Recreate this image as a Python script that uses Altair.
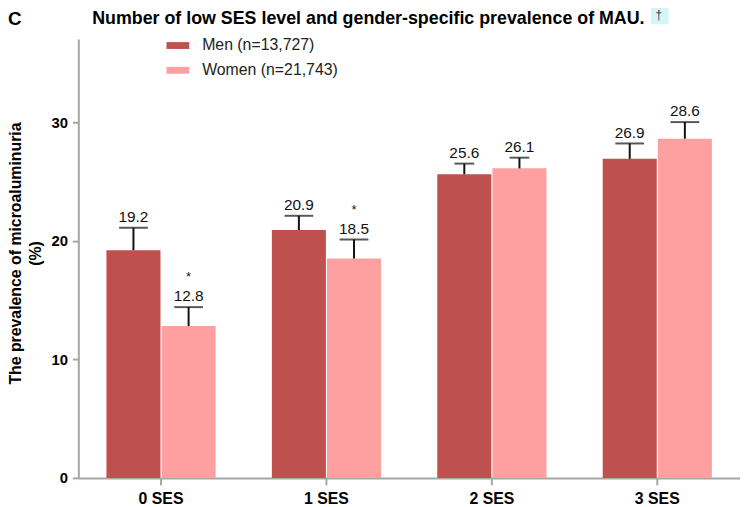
import altair as alt
import pandas as pd

categories = ["0 SES", "1 SES", "2 SES", "3 SES"]
groups = ["Men (n=13,727)", "Women (n=21,743)"]
men_values = [19.2, 20.9, 25.6, 26.9]
women_values = [12.8, 18.5, 26.1, 28.6]
men_upper = [21.1, 22.1, 26.5, 28.2]
women_upper = [14.4, 20.1, 27.0, 30.0]
men_marks = ["", "", "", ""]
women_marks = ["*", "*", "", ""]
y_ticks = [0, 10, 20, 30]
colors = ["#C0504D", "#FFA0A0"]
title_text = "Number of low SES level and gender-specific prevalence of MAU."

rows = []
for g, vals, ups, marks in [
    (groups[0], men_values, men_upper, men_marks),
    (groups[1], women_values, women_upper, women_marks),
]:
    for c, v, u, m in zip(categories, vals, ups, marks):
        rows.append({"ses": c, "group": g, "value": v, "upper": u, "sig": m})
df = pd.DataFrame(rows)

FONT = "Liberation Sans"

x_enc = alt.X(
    "ses:N",
    sort=categories,
    scale=alt.Scale(paddingInner=0.34, paddingOuter=0.17),
    axis=alt.Axis(title=None, labelAngle=0, tickSize=7, labelPadding=6,
                  labelFontSize=16, labelFontWeight="bold"),
)
xo_enc = alt.XOffset("group:N", sort=groups, scale=alt.Scale(paddingInner=0.02))
y_enc = alt.Y(
    "value:Q",
    scale=alt.Scale(domain=[0, 37], nice=False),
    axis=alt.Axis(
        values=y_ticks,
        title=["The prevalence of microaluminuria", "(%)"],
        titleFontSize=16,
        titleFontWeight="bold",
        titleAngle=-90,
        titleBaseline="top",
        titleAlign="center",
        titleX=-71,
        titleY=216,
        titleLineHeight=20,
        tickSize=6,
        labelPadding=5,
        labelFontSize=15,
        labelFontWeight="bold",
    ),
)

base = alt.Chart(df)

bars = base.mark_bar().encode(
    x=x_enc,
    xOffset=xo_enc,
    y=y_enc,
    color=alt.Color(
        "group:N",
        sort=groups,
        scale=alt.Scale(domain=groups, range=colors),
        legend=alt.Legend(
            title=None,
            orient="none",
            legendX=89,
            legendY=-5,
            symbolType="M-1,-0.3H1V0.3H-1Z",
            symbolSize=529,
            symbolStrokeWidth=0,
            labelFontSize=16,
            labelOffset=13,
            rowPadding=5,
            labelColor="#222222",
        ),
    ),
)

err = base.mark_rule(color="#111111", strokeWidth=2).encode(
    x=alt.X("ses:N", sort=categories),
    xOffset=alt.XOffset("group:N", sort=groups),
    y="value:Q",
    y2="upper:Q",
)

caps = base.mark_tick(color="#111111", thickness=2).encode(
    x=alt.X("ses:N", sort=categories),
    xOffset=alt.XOffset("group:N", sort=groups),
    y="upper:Q",
    size=alt.condition(alt.datum.ses == "2 SES", alt.value(20), alt.value(29)),
)

labels = base.mark_text(baseline="bottom", dy=-3, fontSize=15.5, font=FONT, color="#111111").encode(
    x=alt.X("ses:N", sort=categories),
    xOffset=alt.XOffset("group:N", sort=groups),
    y="upper:Q",
    text=alt.Text("value:Q", format=".1f"),
)

stars = base.mark_text(baseline="bottom", dy=-23, fontSize=13, font=FONT, color="#111111").encode(
    x=alt.X("ses:N", sort=categories),
    xOffset=alt.XOffset("group:N", sort=groups),
    y="upper:Q",
    text="sig:N",
)

panel_letter = alt.Chart(pd.DataFrame({"t": ["C"]})).mark_text(
    fontSize=19, fontWeight="bold", font=FONT, align="left", baseline="middle", color="black"
).encode(text="t:N", x=alt.value(-71), y=alt.value(-20))

title_mark = alt.Chart(pd.DataFrame({"t": [title_text]})).mark_text(
    fontSize=18, fontWeight="bold", font=FONT, align="left", baseline="middle", color="black"
).encode(text="t:N", x=alt.value(14), y=alt.value(-20))

dag_box = alt.Chart(pd.DataFrame({"t": ["box"]})).mark_rect(color="#D5F5FA").encode(
    x=alt.value(578), x2=alt.value(596), y=alt.value(-37), y2=alt.value(-15)
)
dagger = alt.Chart(pd.DataFrame({"t": ["\u2020"]})).mark_text(
    fontSize=12, font=FONT, align="center", baseline="middle", color="#333333"
).encode(text="t:N", x=alt.value(586), y=alt.value(-24))

chart = (
    alt.layer(bars, err, caps, labels, stars, dag_box, dagger, title_mark, panel_letter)
    .properties(
        width=668,
        height=443,
        autosize=alt.AutoSizeParams(type="none"),
        padding={"left": 71, "top": 29, "right": 0, "bottom": 27},
    )
    .configure_view(stroke=None)
    .configure_axis(
        grid=False,
        domainColor="#A6A6A6",
        domainWidth=2,
        tickColor="#A6A6A6",
        tickWidth=2,
        labelColor="black",
        labelFont=FONT,
        titleFont=FONT,
        titleColor="black",
    )
    .configure_legend(labelFont=FONT)
)

chart.save("out.html", embed_options={"renderer": "svg", "actions": False})
